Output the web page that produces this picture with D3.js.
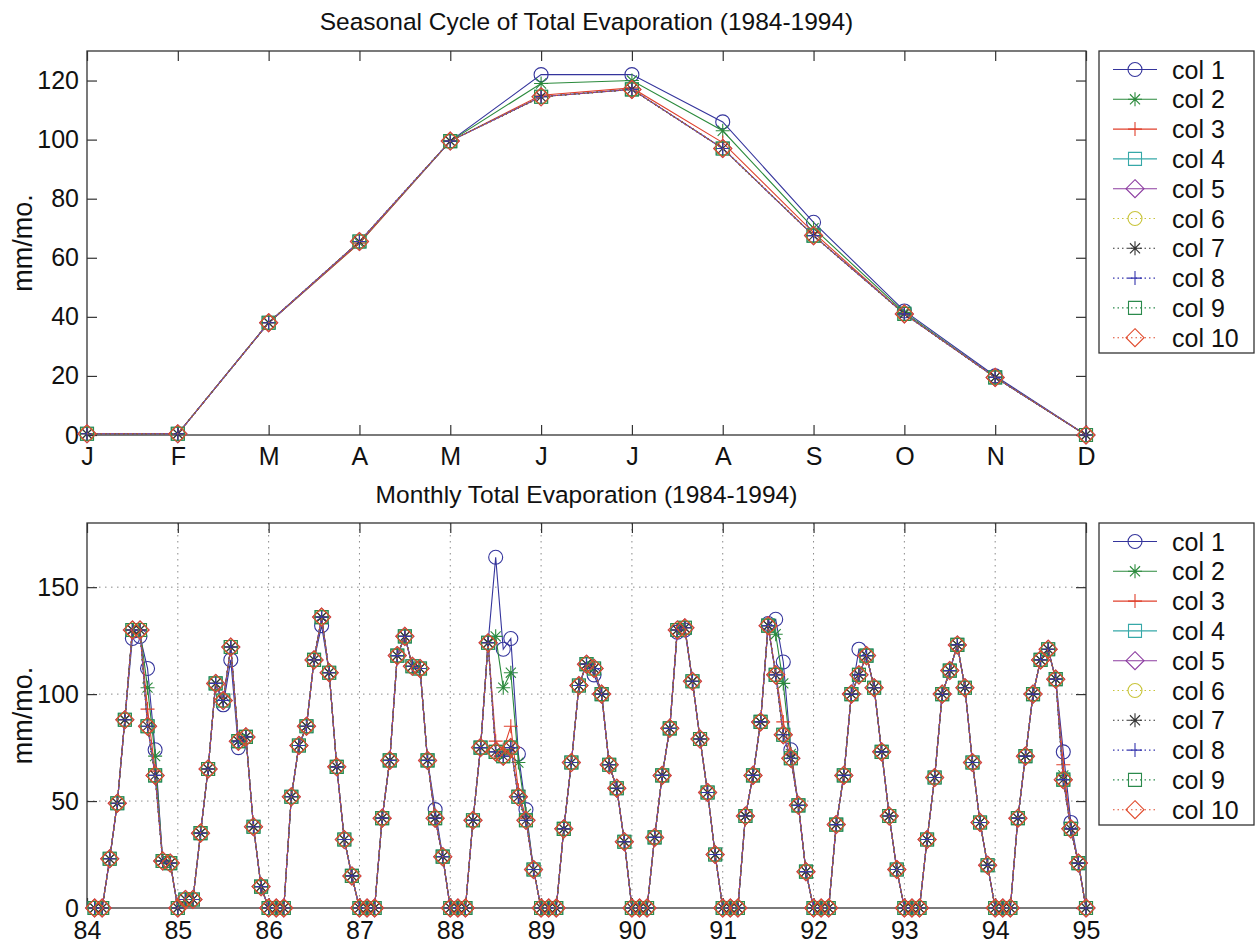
<!DOCTYPE html>
<html><head><meta charset="utf-8">
<script src="https://cdnjs.cloudflare.com/ajax/libs/d3/7.8.5/d3.min.js"></script>
<style>
body{margin:0;background:#fff}
svg{display:block}
text{font-family:"Liberation Sans",Arial,Helvetica,sans-serif;fill:#111}
</style>
</head><body>
<svg id="c" width="1256" height="943"></svg>
<script>
// ---------- DATA ----------
const monthLabels = ['J','F','M','A','M','J','J','A','S','O','N','D'];
const yearLabels = ['84','85','86','87','88','89','90','91','92','93','94','95'];
const seriesNames = ['col 1','col 2','col 3','col 4','col 5','col 6','col 7','col 8','col 9','col 10'];

// Seasonal cycle (mm/mo.), Jan..Dec
const seasonalCol1 = [0.4,0.4,38,65.5,99.5,122,122,106,72,42,20,0];
const seasonalCol2 = [0.4,0.4,38,65,99.5,119,120,103,70,41.5,19.5,0];
const seasonalCol3 = [0.4,0.4,38,65,99.5,115,117.5,99,68.5,41,19.5,0];
const seasonalRest = [0.4,0.4,38,65.5,99.5,114.5,117,97,67.5,41,19.5,0];

// Monthly totals 1984-1994 (mm/mo.), Jan 1984 .. Dec 1994
const monthlyCol1 = [
 0,0,23,49,88,126,127,112,74,22,21,0,
 4,4,35,65,105,95,116,75,80,38,10,0,
 0,0,52,76,85,116,132,110,66,32,15,0,
 0,0,42,69,118,127,113,112,69,46,24,0,
 0,0,41,75,124,164,121,126,72,46,18,0,
 0,0,37,68,104,114,109,100,67,56,31,0,
 0,0,33,62,84,129,130,106,79,54,25,0,
 0,0,43,62,87,133,135,115,74,48,17,0,
 0,0,39,62,100,121,118,103,73,43,18,0,
 0,0,32,61,100,111,123,103,68,40,20,0,
 0,0,42,71,100,116,121,107,73,40,21,0];
const monthlyCol2 = [
 0,0,23,49,88,130,130,103,71,22,21,0,
 4,4,35,65,105,97,122,78,80,38,10,0,
 0,0,52,76,85,116,136,110,66,32,15,0,
 0,0,42,69,118,127,113,112,69,42,24,0,
 0,0,41,75,124,127,103,110,68,44,18,0,
 0,0,37,68,104,114,112,100,67,56,31,0,
 0,0,33,62,84,130,131,106,79,54,25,0,
 0,0,43,62,87,132,128,105,72,48,17,0,
 0,0,39,62,100,109,118,103,73,43,18,0,
 0,0,32,61,100,111,123,103,68,40,20,0,
 0,0,42,71,100,116,121,107,62,37,21,0];
const monthlyCol3 = [
 0,0,23,49,88,130,130,93,64,22,21,0,
 4,4,35,65,105,97,122,78,80,38,10,0,
 0,0,52,76,85,116,136,110,66,32,15,0,
 0,0,42,69,118,127,113,112,69,42,24,0,
 0,0,41,75,124,78,74,85,55,42,18,0,
 0,0,37,68,104,114,112,100,67,56,31,0,
 0,0,33,62,84,130,131,106,79,54,25,0,
 0,0,43,62,87,132,110,87,72,48,17,0,
 0,0,39,62,100,109,118,103,73,43,18,0,
 0,0,32,61,100,111,123,103,68,40,20,0,
 0,0,42,71,100,116,121,107,67,37,21,0];
const monthlyRest = [
 0,0,23,49,88,130,130,85,62,22,21,0,
 4,4,35,65,105,97,122,78,80,38,10,0,
 0,0,52,76,85,116,136,110,66,32,15,0,
 0,0,42,69,118,127,113,112,69,42,24,0,
 0,0,41,75,124,73,71,75,52,41,18,0,
 0,0,37,68,104,114,112,100,67,56,31,0,
 0,0,33,62,84,130,131,106,79,54,25,0,
 0,0,43,62,87,132,109,81,70,48,17,0,
 0,0,39,62,100,109,118,103,73,43,18,0,
 0,0,32,61,100,111,123,103,68,40,20,0,
 0,0,42,71,100,116,121,107,60,37,21,0];

const seasonalData = [seasonalCol1,seasonalCol2,seasonalCol3,seasonalRest,seasonalRest,seasonalRest,seasonalRest,seasonalRest,seasonalRest,seasonalRest];
const monthlyData = [monthlyCol1,monthlyCol2,monthlyCol3,monthlyRest,monthlyRest,monthlyRest,monthlyRest,monthlyRest,monthlyRest,monthlyRest];

const seriesColors = ['#34349c','#2b8a3c','#e0402c','#36a8a8','#8c3ca0','#c8c43a','#333333','#3636ae','#2b8a4c','#e04a2c'];
const seriesMarkers = ['circle','asterisk','plus','square','diamond','circle','asterisk','plus','square','diamond'];
const seriesDotted = [false,false,false,false,false,true,true,true,true,true];

// ---------- DRAW ----------
const svg = d3.select('#c');
const L = 87, R = 1086;
const FS = 25;

function markerPath(type){
  const s = 7;
  switch(type){
    case 'asterisk': { const d = s*0.72;
      return `M${-s},0H${s}M0,${-s}V${s}M${-d},${-d}L${d},${d}M${-d},${d}L${d},${-d}`; }
    case 'plus': return `M${-s},0H${s}M0,${-s}V${s}`;
    case 'square': { const q = 6.5; return `M${-q},${-q}H${q}V${q}H${-q}Z`; }
    case 'diamond': { const q = 9; return `M0,${-q}L${q},0L0,${q}L${-q},0Z`; }
  }
  return null;
}
function drawMarker(g, type, color, x, y){
  if(type === 'circle'){
    g.append('circle').attr('cx',x).attr('cy',y).attr('r',7)
      .attr('fill','none').attr('stroke',color).attr('stroke-width',1.1);
  } else {
    g.append('path').attr('d',markerPath(type)).attr('transform',`translate(${x},${y})`)
      .attr('fill','none').attr('stroke',color).attr('stroke-width',1.1);
  }
}

function panel(opts){
  const {top, bottom, xScale, yScale, xTicks, xFormat, yTicks, grid, title, titleY, xPad, data, xOf} = opts;
  const g = svg.append('g');
  if(grid){
    const gg = g.append('g');
    xTicks.filter(v=>v>xScale.domain()[0] && v<xScale.domain()[1]).forEach(v=>{
      gg.append('line').attr('x1',xScale(v)).attr('x2',xScale(v)).attr('y1',top).attr('y2',bottom)
        .attr('stroke','#8a8a8a').attr('stroke-width',1).attr('stroke-dasharray','1.5,4.5');
    });
    yTicks.filter(v=>v>0).forEach(v=>{
      gg.append('line').attr('x1',L).attr('x2',R).attr('y1',yScale(v)).attr('y2',yScale(v))
        .attr('stroke','#8a8a8a').attr('stroke-width',1).attr('stroke-dasharray','1.5,4.5');
    });
  }
  g.append('rect').attr('x',L).attr('y',top).attr('width',R-L).attr('height',bottom-top)
    .attr('fill','none').attr('stroke','#333').attr('stroke-width',1.3);
  const ax = g.append('g').attr('transform',`translate(0,${bottom})`)
    .call(d3.axisBottom(xScale).tickValues(xTicks).tickFormat(xFormat).tickSizeInner(-10).tickSizeOuter(0).tickPadding(xPad));
  const axT = g.append('g').attr('transform',`translate(0,${top})`)
    .call(d3.axisTop(xScale).tickValues(xTicks).tickFormat('').tickSizeInner(-10).tickSizeOuter(0));
  const ay = g.append('g').attr('transform',`translate(${L},0)`)
    .call(d3.axisLeft(yScale).tickValues(yTicks).tickFormat(d3.format('d')).tickSizeInner(-10).tickSizeOuter(0).tickPadding(8));
  const ayR = g.append('g').attr('transform',`translate(${R},0)`)
    .call(d3.axisRight(yScale).tickValues(yTicks).tickFormat('').tickSizeInner(-10).tickSizeOuter(0));
  [ax,axT,ay,ayR].forEach(a=>{
    a.select('.domain').remove();
    a.selectAll('line').attr('stroke','#333').attr('stroke-width',1.2);
    a.selectAll('text').style('font-size',FS+'px').attr('fill','#111');
  });
  const line = d3.line().x((d,i)=>xScale(xOf(i))).y(d=>yScale(d));
  data.forEach((vals,k)=>{
    const sg = g.append('g');
    sg.append('path').datum(vals).attr('d',line).attr('fill','none')
      .attr('stroke',seriesColors[k]).attr('stroke-width',1.1)
      .attr('stroke-dasharray',seriesDotted[k]?'1.5,3':null);
    vals.forEach((v,i)=>drawMarker(sg, seriesMarkers[k], seriesColors[k], xScale(xOf(i)), yScale(v)));
  });
  svg.append('text').attr('x',(L+R)/2).attr('y',titleY).attr('text-anchor','middle')
    .style('font-size','24.5px').text(title);
  svg.append('text').attr('transform',`translate(32,${(top+bottom)/2}) rotate(-90)`)
    .attr('text-anchor','middle').style('font-size','27px').text('mm/mo.');
  const lx0 = 1099, lx1 = 1254, lh = 302;
  const lg = svg.append('g');
  lg.append('rect').attr('x',lx0).attr('y',top).attr('width',lx1-lx0).attr('height',lh)
    .attr('fill','#fff').attr('stroke','#333').attr('stroke-width',1.3);
  seriesNames.forEach((name,k)=>{
    const cy = top + 18.5 + k*29.8;
    lg.append('line').attr('x1',1113).attr('x2',1157).attr('y1',cy).attr('y2',cy)
      .attr('stroke',seriesColors[k]).attr('stroke-width',1.1)
      .attr('stroke-dasharray',seriesDotted[k]?'1.5,3':null);
    drawMarker(lg, seriesMarkers[k], seriesColors[k], 1135, cy);
    lg.append('text').attr('x',1172).attr('y',cy).attr('dy','0.36em')
      .style('font-size',FS+'px').text(name);
  });
}

const xTop = d3.scaleLinear().domain([1,12]).range([L,R]);
const yTop = d3.scaleLinear().domain([0,130]).range([435,51]);
panel({top:51,bottom:435,xScale:xTop,yScale:yTop,
  xTicks:d3.range(1,13),xFormat:(d)=>monthLabels[d-1],
  yTicks:[0,20,40,60,80,100,120],grid:false,
  title:'Seasonal Cycle of Total Evaporation (1984-1994)',titleY:30,xPad:12,
  data:seasonalData,xOf:(i)=>i+1});

const xBot = d3.scaleLinear().domain([84,95]).range([L,R]);
const yBot = d3.scaleLinear().domain([0,180]).range([908,523]);
panel({top:523,bottom:908,xScale:xBot,yScale:yBot,
  xTicks:d3.range(84,96),xFormat:(d)=>yearLabels[d-84],
  yTicks:[0,50,100,150],grid:true,
  title:'Monthly Total Evaporation (1984-1994)',titleY:503,xPad:13,
  data:monthlyData,xOf:(i)=>84+(i+1)/12});
</script>
</body></html>
